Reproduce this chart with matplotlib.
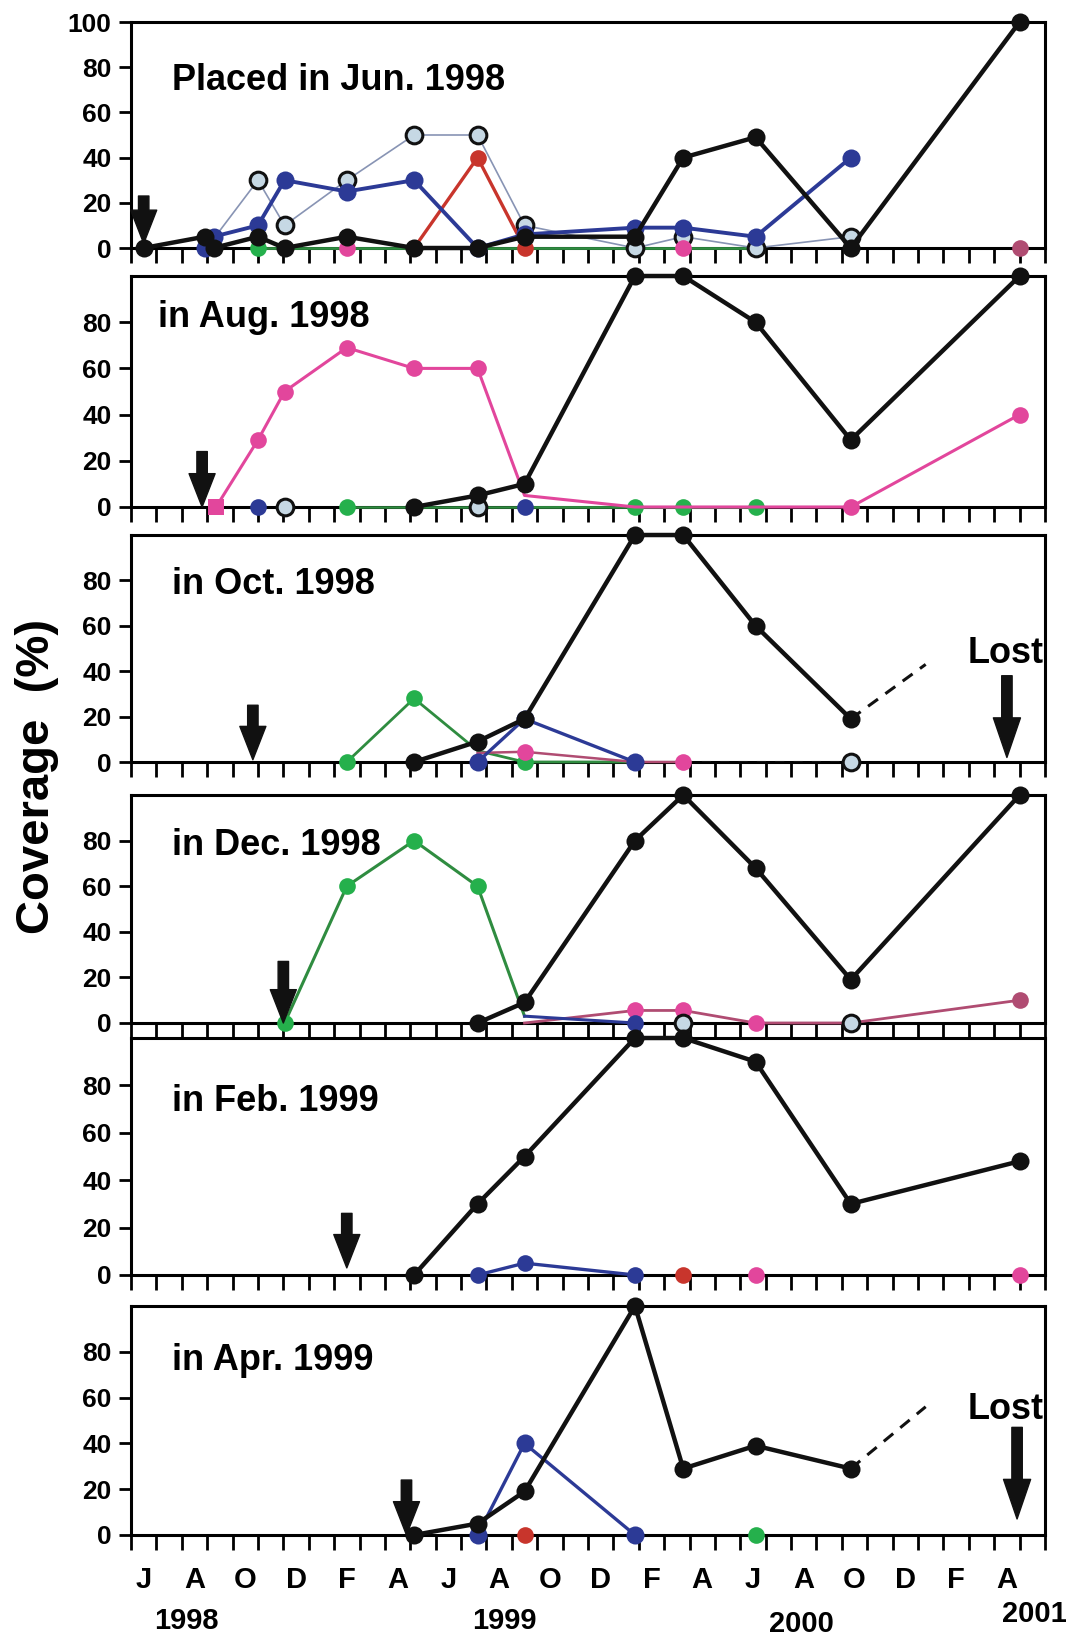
import matplotlib
matplotlib.use('Agg')
import matplotlib.pyplot as plt
import numpy as np

plt.rcParams['font.family'] = ['Liberation Sans', 'DejaVu Sans']
plt.rcParams['font.weight'] = 'bold'

# x = months since 1 Jun 1998
MONTH_LABELS = ['J', 'A', 'O', 'D', 'F', 'A'] * 3
YEAR_LABELS = ['1998', '1999', '2000', '2001']
YEAR_X = [2.2, 14.7, 26.4, 35.6]
TITLES = ['Placed in Jun. 1998', 'in Aug. 1998', 'in Oct. 1998',
          'in Dec. 1998', 'in Feb. 1999', 'in Apr. 1999']
PLACED_AT = [0.5, 2.8, 4.8, 6.0, 8.5, 10.85]

# ---- panel 1 : Jun 1998
p1_black_x = [0.5, 2.9, 3.25, 5.0, 6.05, 8.5, 11.15, 13.65, 15.5, 19.85, 21.75, 24.6, 28.35, 35.0]
p1_black_y = [0, 5, 0, 5, 0, 5, 0, 0, 5, 5, 40, 49, 0, 100]
p1_blue_x = [2.9, 3.25, 5.0, 6.05, 8.5, 11.15, 13.65, 15.5, 19.85, 21.75, 24.6, 28.35]
p1_blue_y = [0, 5, 10, 30, 25, 30, 0, 6, 9, 9, 5, 40]
p1_gray_x = [3.25, 5.0, 6.05, 8.5, 11.15, 13.65, 15.5, 19.85, 21.75, 24.6, 28.35]
p1_gray_y = [4, 30, 10, 30, 50, 50, 10, 0, 5, 0, 5]
p1_red_x = [11.15, 13.65, 15.5]
p1_red_y = [0, 40, 0]
p1_green_x = [5.0, 6.05, 8.5, 11.15, 13.65, 15.5, 19.85, 21.75, 24.6]
p1_green_y = [0, 0, 0, 0, 0, 0, 0, 0, 0]
p1_pink_x = [8.5, 21.75]
p1_pink_y = [0, 0]
p1_rose_x = [35.0]
p1_rose_y = [0]

# ---- panel 2 : Aug 1998
p2_pink_x = [3.35, 5.0, 6.05, 8.5, 11.15, 13.65, 15.5, 19.85, 28.35, 35.0]
p2_pink_y = [0, 29, 50, 69, 60, 60, 5, 0, 0, 40]
p2_black_x = [11.15, 13.65, 15.5, 19.85, 21.75, 24.6, 28.35, 35.0]
p2_black_y = [0, 5, 10, 100, 100, 80, 29, 100]
p2_blue_x = [5.0, 15.5]
p2_blue_y = [0, 0]
p2_gray_x = [6.05, 13.65]
p2_gray_y = [0, 0]
p2_green_x = [8.5, 15.5, 19.85, 21.75, 24.6]
p2_green_y = [0, 0, 0, 0, 0]

# ---- panel 3 : Oct 1998
p3_green_x = [8.5, 11.15, 13.65, 15.5, 19.85]
p3_green_y = [0, 28, 5, 0, 0]
p3_black_x = [11.15, 13.65, 15.5, 19.85, 21.75, 24.6, 28.35]
p3_black_y = [0, 9, 19, 100, 100, 60, 19]
p3_lost_x = [28.35, 31.3]
p3_lost_y = [19, 43]
p3_blue_x = [13.65, 15.5, 19.85]
p3_blue_y = [0, 19, 0]
p3_pink_x = [13.65, 15.5, 19.85, 21.75]
p3_pink_y = [4, 4.5, 0, 0]
p3_dot_x = [21.75, 28.35]
p3_dot_y = [0, 0]
p3_gray_x = [28.35]
p3_gray_y = [0]

# ---- panel 4 : Dec 1998
p4_green_x = [6.05, 8.5, 11.15, 13.65, 15.5]
p4_green_y = [0, 60, 80, 60, 3]
p4_black_x = [13.65, 15.5, 19.85, 21.75, 24.6, 28.35, 35.0]
p4_black_y = [0, 9, 80, 100, 68, 19, 100]
p4_blue_x = [15.5, 19.85]
p4_blue_y = [3, 0]
p4_pink_x = [15.5, 19.85, 21.75, 24.6, 28.35, 35.0]
p4_pink_y = [0, 5.5, 5.5, 0, 0, 10]
p4_gray_x = [21.75, 28.35]
p4_gray_y = [0, 0]

# ---- panel 5 : Feb 1999
p5_black_x = [11.15, 13.65, 15.5, 19.85, 21.75, 24.6, 28.35, 35.0]
p5_black_y = [0, 30, 50, 100, 100, 90, 30, 48]
p5_blue_x = [13.65, 15.5, 19.85]
p5_blue_y = [0, 5, 0]
p5_red_x = [21.75]
p5_red_y = [0]
p5_pink_x = [24.6, 35.0]
p5_pink_y = [0, 0]

# ---- panel 6 : Apr 1999
p6_black_x = [11.15, 13.65, 15.5, 19.85, 21.75, 24.6, 28.35]
p6_black_y = [0, 5, 19, 100, 29, 39, 29]
p6_lost_x = [28.35, 31.3]
p6_lost_y = [29, 56]
p6_blue_x = [13.65, 15.5, 19.85]
p6_blue_y = [0, 40, 0]
p6_red_x = [15.5]
p6_red_y = [0]
p6_green_x = [24.6]
p6_green_y = [0]

BLACK = '#111111'
BLUE = '#2c3a96'
RED = '#c8352c'
GREEN = '#25b04c'
GREEN_LINE = '#2f8c40'
PINK = '#e2469c'
ROSE = '#b04c72'
PALE = '#c6d8e4'


def line(ax, x, y, color, lw=1.8, ms=12, mfc=None, mec=None, mew=0,
         ls='-', markevery=None, z=3, marker='o'):
    ax.plot(x, y, ls=ls, color=color, lw=lw, marker=marker if ms else None,
            ms=ms, mfc=mfc or color, mec=mec or (mfc or color), mew=mew,
            markevery=markevery, zorder=z, clip_on=False)


def pts(ax, x, y, color, ms=12, mec=None, mew=0, z=4, marker='o'):
    ax.plot(x, y, ls='none', marker=marker, ms=ms, mfc=color,
            mec=mec or color, mew=mew, zorder=z, clip_on=False)


def black(ax, x, y):
    line(ax, x, y, BLACK, lw=3.2, ms=13, z=6)


def pale(ax, x, y, ls='none', markevery=None, lw=1.2):
    line(ax, x, y, '#8894b4', lw=lw, ms=12, mfc=PALE, mec=BLACK, mew=2.2,
         ls=ls, markevery=markevery, z=4)


def down_arrow(ax, x, y_top, y_tip, tail=0.5, hw=1.25, hl=1.6):
    ax.annotate('', xy=(x, y_tip), xytext=(x, y_top), annotation_clip=False,
                arrowprops=dict(arrowstyle='simple,head_length=%g,head_width=%g,tail_width=%g' % (hl, hw, tail),
                                mutation_scale=15, fc=BLACK, ec=BLACK,
                                shrinkA=0, shrinkB=0), zorder=7)


W, H = 1076, 1639
fig = plt.figure(figsize=(W / 100, H / 100), dpi=100)
left, right = 131, 1045
tops = [22, 276, 535, 795, 1038, 1306]
zeros = [248, 507, 762, 1023, 1275, 1535]

axes = []
for i in range(6):
    ax = fig.add_axes([left / W, 1 - zeros[i] / H, (right - left) / W,
                       (zeros[i] - tops[i]) / H])
    ax.set_xlim(0, 36)
    ax.set_ylim(0, 100)
    for s in ax.spines.values():
        s.set_linewidth(2.2)
    ax.set_xticks(np.arange(0, 37))
    ax.set_xticklabels([])
    ax.tick_params(axis='x', which='major', direction='out', length=11, width=2)
    ax.tick_params(axis='y', direction='out', length=9, width=2, pad=5,
                   labelsize=19)
    if i == 0:
        ax.set_yticks([0, 20, 40, 60, 80, 100])
    else:
        ax.set_yticks([0, 20, 40, 60, 80])
    ax.text(1.05 if i == 1 else 1.6, [74, 82, 78, 78, 73, 76][i], TITLES[i],
            fontsize=26, fontweight='bold', va='center', ha='left')
    down_arrow(ax, PLACED_AT[i], [23, 24, 25, 27, 26, 24][i], [2, 0, 1, 0, 3, 0][i])
    axes.append(ax)

ax1, ax2, ax3, ax4, ax5, ax6 = axes

# panel 1
pale(ax1, p1_gray_x, p1_gray_y, ls='-', markevery=list(range(1, len(p1_gray_x))))
line(ax1, p1_green_x, p1_green_y, GREEN_LINE, lw=2, ms=12, mfc=GREEN, markevery=[0])
line(ax1, p1_red_x, p1_red_y, RED, lw=2.4, ms=12, z=4)
line(ax1, p1_blue_x, p1_blue_y, BLUE, lw=2.8, ms=13, z=5)
pts(ax1, p1_pink_x, p1_pink_y, PINK)
pts(ax1, p1_rose_x, p1_rose_y, ROSE)
black(ax1, p1_black_x, p1_black_y)

# panel 2
ax2.plot(p2_gray_x, p2_gray_y, ls=':', color='#3aa0a8', lw=2, zorder=2)
line(ax2, p2_green_x, p2_green_y, GREEN_LINE, lw=1.8, ms=12, mfc=GREEN,
     markevery=[0, 2, 3, 4])
ax2.plot(p2_green_x[1:], p2_green_y[1:], color=GREEN_LINE, lw=1.8, zorder=3)
line(ax2, p2_pink_x, p2_pink_y, PINK, lw=2.2, ms=12,
     markevery=[1, 2, 3, 4, 5, 8, 9], z=4)
pts(ax2, p2_pink_x[:1], p2_pink_y[:1], PINK, ms=11, marker='s')
pts(ax2, p2_blue_x, p2_blue_y, BLUE)
pale(ax2, p2_gray_x, p2_gray_y)
black(ax2, p2_black_x, p2_black_y)

# panel 3
ax3.plot(p3_dot_x, p3_dot_y, ls=(0, (3, 3)), color=BLACK, lw=2.2, zorder=3)
line(ax3, p3_green_x, p3_green_y, GREEN_LINE, lw=2, ms=12, mfc=GREEN,
     markevery=[0, 1, 3])
line(ax3, p3_pink_x, p3_pink_y, ROSE, lw=1.8, ms=12, mfc=PINK,
     markevery=[1, 3], z=4)
line(ax3, p3_blue_x, p3_blue_y, BLUE, lw=2.4, ms=13, z=5)
pale(ax3, p3_gray_x, p3_gray_y)
black(ax3, p3_black_x, p3_black_y)
ax3.plot(p3_lost_x, p3_lost_y, ls=(0, (4, 3)), color=BLACK, lw=2.2, zorder=5)
ax3.text(34.45, 48, 'Lost', fontsize=26, fontweight='bold', ha='center',
         va='center')
down_arrow(ax3, 34.5, 38, 2, tail=0.5, hw=1.3, hl=1.9)

# panel 4
line(ax4, p4_green_x, p4_green_y, GREEN_LINE, lw=2.2, ms=12, mfc=GREEN,
     markevery=[0, 1, 2, 3])
line(ax4, p4_pink_x, p4_pink_y, ROSE, lw=2, ms=12, mfc=PINK,
     markevery=[1, 2, 3], z=4)
pts(ax4, p4_pink_x[-1:], p4_pink_y[-1:], ROSE)
line(ax4, p4_blue_x, p4_blue_y, BLUE, lw=2.2, ms=12, markevery=[1], z=4)
pale(ax4, p4_gray_x, p4_gray_y)
black(ax4, p4_black_x, p4_black_y)

# panel 5
line(ax5, p5_blue_x, p5_blue_y, BLUE, lw=2.4, ms=12, z=4)
pts(ax5, p5_red_x, p5_red_y, RED)
pts(ax5, p5_pink_x, p5_pink_y, PINK)
black(ax5, p5_black_x, p5_black_y)

# panel 6
line(ax6, p6_blue_x, p6_blue_y, BLUE, lw=2.4, ms=13, z=4)
pts(ax6, p6_red_x, p6_red_y, RED)
pts(ax6, p6_green_x, p6_green_y, GREEN)
black(ax6, p6_black_x, p6_black_y)
ax6.plot(p6_lost_x, p6_lost_y, ls=(0, (4, 3)), color=BLACK, lw=2.2, zorder=5)
ax6.text(34.45, 55, 'Lost', fontsize=26, fontweight='bold', ha='center',
         va='center')
down_arrow(ax6, 34.9, 47, 7, tail=0.5, hw=1.3, hl=1.9)

# month and year labels on the bottom panel
ax6.set_xticks(np.arange(0.5, 36, 2), minor=True)
ax6.set_xticklabels(MONTH_LABELS, minor=True, fontsize=21, fontweight='bold')
ax6.tick_params(axis='x', which='minor', length=0, pad=22)
for lab, xp, yp in zip(YEAR_LABELS, YEAR_X, [-0.375, -0.375, -0.39, -0.345]):
    ax6.text(xp, yp, lab, transform=ax6.get_xaxis_transform(), fontsize=21,
             fontweight='bold', ha='center', va='center')

fig.text(37 / W, 1 - 776 / H, 'Coverage  (%)', rotation=90, fontsize=34,
         fontweight='bold', ha='center', va='center')

fig.savefig('out.png', dpi=100)
